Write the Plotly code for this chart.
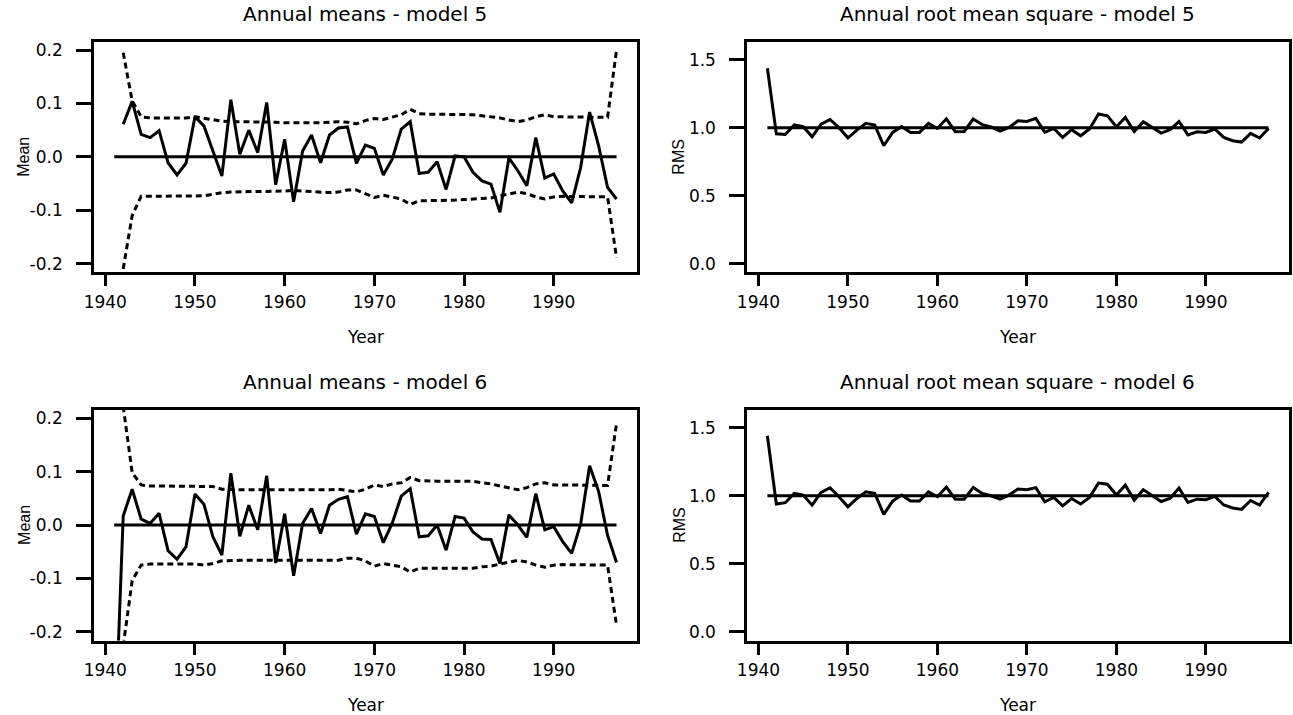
import plotly.graph_objects as go

years = list(range(1941, 1998))
NA = None

# Model 5: annual means (1941 missing)
mean5 = [NA, 0.061, 0.104, 0.042, 0.036, 0.049, -0.011, -0.034, -0.012, 0.075,
         0.058, 0.011, -0.036, 0.107, 0.005, 0.050, 0.008, 0.102, -0.052, 0.033,
         -0.084, 0.011, 0.041, -0.011, 0.041, 0.054, 0.056, -0.012, 0.022, 0.016,
         -0.034, -0.004, 0.052, 0.066, -0.031, -0.029, -0.009, -0.061, 0.002, 0.000,
         -0.029, -0.045, -0.051, -0.104, -0.002, -0.026, -0.054, 0.036, -0.040, -0.032,
         -0.064, -0.086, -0.020, 0.084, 0.021, -0.057, -0.079]
upper5 = [NA, 0.195, 0.105, 0.075, 0.073, 0.073, 0.073, 0.073, 0.073, 0.075,
          0.072, 0.070, 0.067, 0.066, 0.066, 0.066, 0.065, 0.065, 0.065, 0.064,
          0.064, 0.063, 0.063, 0.064, 0.065, 0.066, 0.065, 0.062, 0.068, 0.072,
          0.070, 0.075, 0.079, 0.089, 0.081, 0.080, 0.080, 0.080, 0.080, 0.079,
          0.079, 0.077, 0.075, 0.073, 0.069, 0.066, 0.069, 0.075, 0.079, 0.075,
          0.075, 0.075, 0.075, 0.075, 0.075, 0.074, 0.200]
lower5 = [NA, -0.210, -0.110, -0.074, -0.074, -0.074, -0.074, -0.074, -0.074, -0.074,
          -0.073, -0.070, -0.067, -0.066, -0.065, -0.065, -0.065, -0.065, -0.065, -0.064,
          -0.063, -0.064, -0.065, -0.066, -0.067, -0.066, -0.062, -0.062, -0.069, -0.076,
          -0.072, -0.075, -0.079, -0.089, -0.082, -0.082, -0.082, -0.082, -0.081, -0.080,
          -0.079, -0.079, -0.077, -0.073, -0.069, -0.066, -0.069, -0.075, -0.079, -0.075,
          -0.074, -0.074, -0.074, -0.074, -0.074, -0.075, -0.189]

# Model 6: annual means
mean6 = [-0.430, 0.017, 0.067, 0.011, 0.003, 0.022, -0.048, -0.064, -0.041, 0.058,
         0.039, -0.022, -0.056, 0.097, -0.021, 0.037, -0.009, 0.092, -0.071, 0.021,
         -0.095, 0.003, 0.031, -0.016, 0.037, 0.048, 0.053, -0.017, 0.021, 0.016,
         -0.033, 0.004, 0.054, 0.068, -0.022, -0.020, 0.000, -0.047, 0.016, 0.013,
         -0.013, -0.026, -0.027, -0.072, 0.019, 0.000, -0.023, 0.059, -0.009, -0.003,
         -0.031, -0.053, 0.002, 0.111, 0.063, -0.019, -0.070]
upper6 = [NA, 0.222, 0.098, 0.075, 0.073, 0.073, 0.073, 0.073, 0.073, 0.073,
          0.072, 0.072, 0.067, 0.066, 0.066, 0.066, 0.066, 0.066, 0.066, 0.065,
          0.065, 0.065, 0.065, 0.065, 0.066, 0.067, 0.064, 0.062, 0.067, 0.075,
          0.072, 0.077, 0.079, 0.089, 0.083, 0.082, 0.082, 0.082, 0.082, 0.082,
          0.082, 0.079, 0.077, 0.073, 0.070, 0.066, 0.070, 0.077, 0.079, 0.075,
          0.075, 0.075, 0.075, 0.075, 0.075, 0.074, 0.190]
lower6 = [NA, -0.226, -0.104, -0.075, -0.073, -0.073, -0.073, -0.073, -0.073, -0.073,
          -0.075, -0.072, -0.067, -0.066, -0.066, -0.066, -0.066, -0.066, -0.066, -0.065,
          -0.065, -0.065, -0.065, -0.065, -0.066, -0.066, -0.062, -0.062, -0.067, -0.077,
          -0.072, -0.075, -0.078, -0.088, -0.081, -0.081, -0.081, -0.081, -0.081, -0.081,
          -0.081, -0.078, -0.077, -0.073, -0.069, -0.066, -0.069, -0.075, -0.079, -0.075,
          -0.074, -0.074, -0.074, -0.074, -0.074, -0.075, -0.188]

# Annual root mean square
rms5 = [1.437, 0.955, 0.950, 1.020, 1.007, 0.933, 1.026, 1.060, 1.000, 0.925,
        0.982, 1.032, 1.019, 0.867, 0.965, 1.008, 0.965, 0.965, 1.031, 0.994,
        1.065, 0.970, 0.972, 1.063, 1.022, 1.006, 0.975, 1.001, 1.050, 1.045,
        1.068, 0.965, 0.994, 0.928, 0.985, 0.940, 0.990, 1.100, 1.087, 1.006,
        1.075, 0.972, 1.043, 1.001, 0.960, 0.985, 1.045, 0.947, 0.970, 0.965,
        0.990, 0.928, 0.904, 0.894, 0.958, 0.924, 0.994]
rms6 = [1.441, 0.939, 0.949, 1.017, 1.005, 0.931, 1.025, 1.059, 0.993, 0.919,
        0.980, 1.029, 1.017, 0.863, 0.961, 1.005, 0.961, 0.961, 1.029, 0.993,
        1.064, 0.975, 0.975, 1.061, 1.017, 1.000, 0.975, 1.005, 1.050, 1.045,
        1.060, 0.955, 0.988, 0.926, 0.980, 0.940, 0.988, 1.093, 1.085, 1.005,
        1.078, 0.968, 1.045, 1.000, 0.958, 0.980, 1.056, 0.951, 0.975, 0.971,
        0.995, 0.932, 0.910, 0.900, 0.965, 0.932, 1.025]

ref_mean = [0.0] * len(years)
ref_rms = [1.0] * len(years)

titles = ["Annual means - model 5", "Annual root mean square - model 5",
          "Annual means - model 6", "Annual root mean square - model 6"]
mean_ticks = [-0.2, -0.1, 0.0, 0.1, 0.2]
mean_ticktext = ["-0.2", "-0.1", "0.0", "0.1", "0.2"]
rms_ticks = [0.0, 0.5, 1.0, 1.5]
rms_ticktext = ["0.0", "0.5", "1.0", "1.5"]
year_ticks = [1940, 1950, 1960, 1970, 1980, 1990]

W, H = 1293, 715
FONT = "DejaVu Sans"
LW = 3

fig = go.Figure()

def solid(x, y, ax):
    fig.add_trace(go.Scatter(x=x, y=y, mode="lines", xaxis="x" + ax, yaxis="y" + ax,
                             line=dict(color="black", width=LW), connectgaps=False,
                             showlegend=False, hoverinfo="skip"))

def dashed(x, y, ax):
    fig.add_trace(go.Scatter(x=x, y=y, mode="lines", xaxis="x" + ax, yaxis="y" + ax,
                             line=dict(color="black", width=LW, dash="6px,4px"),
                             connectgaps=False, showlegend=False, hoverinfo="skip"))

# panel 1: model 5 means
solid(years, ref_mean, "")
solid(years, mean5, "")
dashed(years, upper5, "")
dashed(years, lower5, "")
# panel 2: model 5 rms
solid(years, ref_rms, "2")
solid(years, rms5, "2")
# panel 3: model 6 means
solid(years, ref_mean, "3")
solid(years, mean6, "3")
dashed(years, upper6, "3")
dashed(years, lower6, "3")
# panel 4: model 6 rms
solid(years, ref_rms, "4")
solid(years, rms6, "4")

xl = [84.8 / W, 631.5 / W]
xr = [743.1 / W, 1288.5 / W]
yt = [1 - 271.9 / H, 1 - 40.7 / H]
yb = [1 - 641.3 / H, 1 - 409.7 / H]

def xaxis(dom, anchor):
    return dict(domain=dom, anchor=anchor, range=[1938.76, 1999.24],
                tickmode="array", tickvals=year_ticks, ticks="outside", ticklen=11,
                tickwidth=LW, tickcolor="black", showline=True, linewidth=LW,
                linecolor="black", mirror=True, showgrid=False, zeroline=False,
                tickfont=dict(family=FONT, size=17, color="black"),
                ticklabelstandoff=1)

def yaxis(dom, anchor, rng, tv, tt):
    return dict(domain=dom, anchor=anchor, range=rng, tickmode="array",
                tickvals=tv, ticktext=tt, ticks="outside", ticklen=15,
                tickwidth=LW, tickcolor="black", showline=True, linewidth=LW,
                linecolor="black", mirror=True, showgrid=False, zeroline=False,
                tickfont=dict(family=FONT, size=17, color="black"),
                ticklabelstandoff=10)

mean_rng = [-0.216, 0.216]
rms_rng = [-0.063, 1.633]

fig.update_layout(
    width=W, height=H,
    margin=dict(l=0, r=0, t=0, b=0),
    paper_bgcolor="white", plot_bgcolor="white",
    showlegend=False,
    xaxis=xaxis(xl, "y"), yaxis=yaxis(yt, "x", mean_rng, mean_ticks, mean_ticktext),
    xaxis2=xaxis(xr, "y2"), yaxis2=yaxis(yt, "x2", rms_rng, rms_ticks, rms_ticktext),
    xaxis3=xaxis(xl, "y3"), yaxis3=yaxis(yb, "x3", mean_rng, mean_ticks, mean_ticktext),
    xaxis4=xaxis(xr, "y4"), yaxis4=yaxis(yb, "x4", rms_rng, rms_ticks, rms_ticktext),
)

ann = []
centers_x = [(xl[0] + xl[1]) / 2, (xr[0] + xr[1]) / 2]
title_y = [1 - 13 / H, 1 - 382 / H]
year_y = [1 - 337 / H, 1 - 706 / H]
ylab_y = [(yt[0] + yt[1]) / 2, (yb[0] + yb[1]) / 2]
for r in range(2):
    for c in range(2):
        ann.append(dict(text=titles[r * 2 + c], x=centers_x[c], y=title_y[r],
                        xref="paper", yref="paper", showarrow=False,
                        xanchor="center", yanchor="middle",
                        font=dict(family=FONT, size=20, color="black")))
        ann.append(dict(text="Year", x=centers_x[c], y=year_y[r],
                        xref="paper", yref="paper", showarrow=False,
                        xanchor="center", yanchor="middle",
                        font=dict(family=FONT, size=17, color="black")))
        ann.append(dict(text="Mean" if c == 0 else "RMS",
                        x=(14 if c == 0 else 674) / W, y=ylab_y[r],
                        xref="paper", yref="paper", showarrow=False, textangle=-90,
                        xanchor="center", yanchor="middle",
                        font=dict(family="Liberation Sans Narrow, Liberation Sans", size=16, color="black")))
fig.update_layout(annotations=ann)

fig.write_html("out.html", config={"displayModeBar": False},
               post_script="document.body.style.margin='0';document.body.style.overflow='hidden';")
